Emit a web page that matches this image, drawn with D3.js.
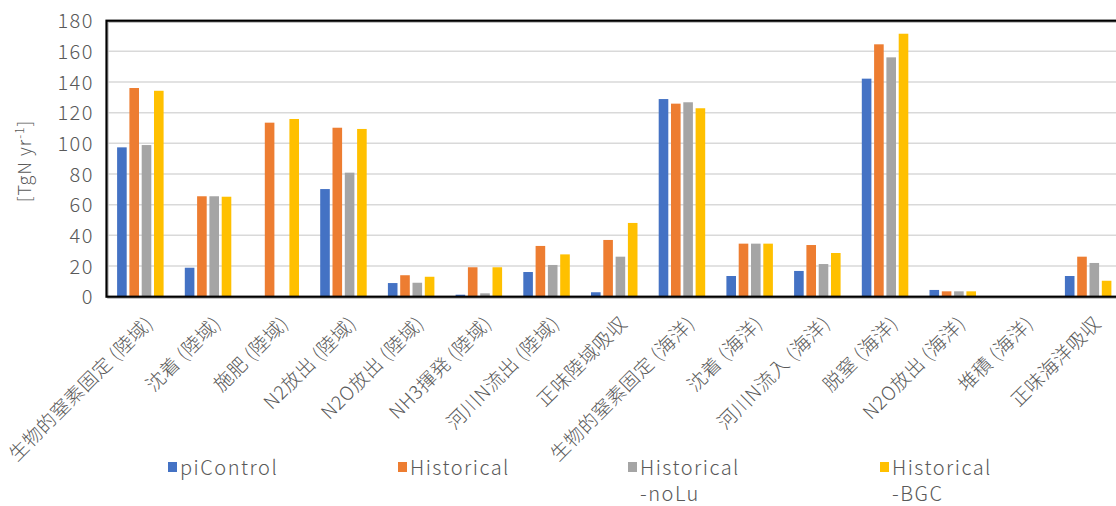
<!DOCTYPE html>
<html>
<head>
<meta charset="utf-8">
<script src="https://cdn.jsdelivr.net/npm/d3@7/dist/d3.min.js"></script>
<style>
  html, body { margin: 0; padding: 0; background: #ffffff; }
  svg { display: block; }
  text { font-family: "Noto Sans CJK JP", "Noto Sans", sans-serif; fill: #595959; }
</style>
</head>
<body>
<svg id="chart" width="1116" height="506"></svg>
<script>
// Nitrogen budget terms [TgN yr-1] for four experiments
const categories = [
  "生物的窒素固定 (陸域)", "沈着 (陸域)", "施肥 (陸域)", "N2放出 (陸域)",
  "N2O放出 (陸域)", "NH3揮発 (陸域)", "河川N流出 (陸域)", "正味陸域吸収",
  "生物的窒素固定 (海洋)", "沈着 (海洋)", "河川N流入 (海洋)", "脱窒 (海洋)",
  "N2O放出 (海洋)", "堆積 (海洋)", "正味海洋吸収"
];
const seriesNames = ["piControl", "Historical", "Historical-noLu", "Historical-BGC"];
const legendLines = [["piControl"], ["Historical"], ["Historical", "-noLu"], ["Historical", "-BGC"]];
const seriesColors = ["#4472C4", "#ED7D31", "#A5A5A5", "#FFC000"];

const piControl    = [97.4, 18.9, 0,     70.2,  8.9, 1.3, 16.1,  2.9, 128.9, 13.5, 16.8, 142.2, 4.4, 0.2, 13.5];
const historical   = [136.1, 65.5, 113.5, 110.2, 14.0, 19.2, 33.1, 37.0, 125.9, 34.6, 33.7, 164.6, 3.5, 0.2, 26.1];
const histNoLu     = [98.9, 65.5, 0,     80.9,  9.1, 2.2, 20.7, 26.1, 126.8, 34.6, 21.3, 156.1, 3.5, 0.2, 22.0];
const histBGC      = [134.3, 65.2, 115.9, 109.4, 13.0, 19.2, 27.6, 48.1, 122.9, 34.6, 28.5, 171.5, 3.5, 0.2, 10.4];
const seriesValues = [piControl, historical, histNoLu, histBGC];

const yTicks = [0, 20, 40, 60, 80, 100, 120, 140, 160, 180];

const svg = d3.select("#chart");

const plotLeft = 106.5, plotRight = 1122, plotTop = 20.7, plotBottom = 296.7;

const x = d3.scaleBand().domain(categories).range([plotLeft, plotRight]).padding(0);
const slot = 12.3, barW = 9.6;
const groupW = slot * seriesNames.length;
const xs = d3.scaleBand().domain(seriesNames).range([0, groupW]).padding(0);
const y = d3.scaleLinear().domain([0, 180]).range([plotBottom, plotTop]);

// gridlines
svg.append("g")
  .selectAll("line")
  .data(yTicks.filter(t => t > 0 && t < 180))
  .join("line")
  .attr("x1", plotLeft).attr("x2", plotRight)
  .attr("y1", d => y(d)).attr("y2", d => y(d))
  .attr("stroke", "#d9d9d9").attr("stroke-width", 1.5);

// bars
const groups = svg.append("g")
  .selectAll("g")
  .data(categories)
  .join("g")
  .attr("transform", d => `translate(${x(d) + (x.bandwidth() - groupW) / 2},0)`);

groups.selectAll("rect")
  .data((c, i) => seriesNames.map((s, k) => ({ s, k, v: seriesValues[k][i] })))
  .join("rect")
  .attr("x", d => xs(d.s) + (slot - barW) / 2)
  .attr("width", barW)
  .attr("y", d => y(d.v))
  .attr("height", d => y(0) - y(d.v))
  .attr("fill", d => seriesColors[d.k]);

// plot frame with a faint shadow
svg.append("rect")
  .attr("x", plotLeft + 1.5).attr("y", plotTop + 1.5)
  .attr("width", plotRight - plotLeft).attr("height", plotBottom - plotTop)
  .attr("fill", "none").attr("stroke", "#bfbfbf").attr("stroke-width", 1.5);
svg.append("rect")
  .attr("x", plotLeft).attr("y", plotTop)
  .attr("width", plotRight - plotLeft).attr("height", plotBottom - plotTop)
  .attr("fill", "none").attr("stroke", "#000").attr("stroke-width", 2.2);

// y axis
const yAxis = svg.append("g")
  .attr("transform", `translate(${plotLeft - 12.5},0)`)
  .call(d3.axisLeft(y).tickValues(yTicks).tickSize(0).tickPadding(0));
yAxis.select(".domain").remove();
yAxis.selectAll("text")
  .attr("font-size", 20)
  .attr("font-family", "'Noto Sans CJK JP', sans-serif")
  .attr("font-weight", 300)
  .attr("letter-spacing", 1.5)
  .attr("fill", "#595959")
  .attr("dy", "0.35em");

// y axis title
const yt = svg.append("text")
  .attr("transform", "translate(31,161) rotate(-90)")
  .attr("text-anchor", "middle")
  .attr("font-size", 18)
  .attr("letter-spacing", 1)
  .attr("font-weight", 300);
yt.append("tspan").text("[TgN yr");
yt.append("tspan").attr("dy", -7).attr("font-size", 12).text("-1");
yt.append("tspan").attr("dy", 7).text("]");

// category labels, rotated
svg.append("g")
  .selectAll("text")
  .data(categories)
  .join("text")
  .attr("transform", d => `translate(${x(d) + x.bandwidth() / 2 + 14},${plotBottom + 28}) rotate(-45)`)
  .attr("text-anchor", "end")
  .attr("font-size", 19)
  .attr("letter-spacing", 0.6)
  .attr("font-weight", 300)
  .text(d => d);

// legend: swatch plus one text element per line
const legendX = [168, 398, 628, 880];
const lg = svg.append("g")
  .selectAll("g")
  .data(seriesNames)
  .join("g")
  .attr("transform", (d, i) => `translate(${legendX[i]},462)`);
lg.append("rect")
  .attr("width", 9).attr("height", 10)
  .attr("fill", (d, i) => seriesColors[i]);
lg.selectAll("text")
  .data((d, i) => legendLines[i])
  .join("text")
  .attr("x", 12)
  .attr("y", (d, j) => 13 + j * 26)
  .attr("font-size", 20)
  .attr("letter-spacing", 1.5)
  .attr("font-weight", 300)
  .text(d => d);
</script>
</body>
</html>
